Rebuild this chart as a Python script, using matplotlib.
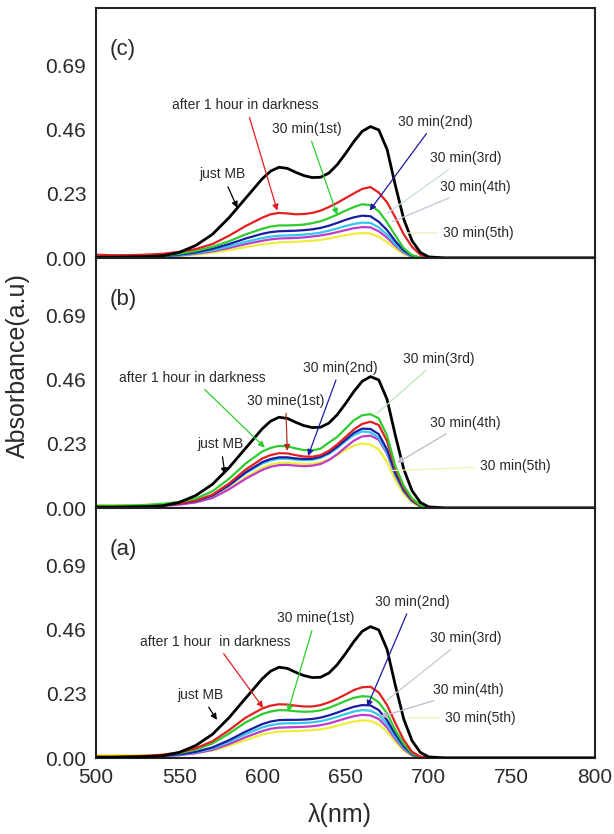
import matplotlib
matplotlib.use("Agg")
import matplotlib.pyplot as plt

plt.rcParams['font.family'] = ['Liberation Sans', 'DejaVu Sans']

# ---------------- data ----------------
wavelength = [500, 510, 520, 530, 540, 550, 560, 570, 580, 590, 600, 605, 610, 615, 620, 625,
              630, 635, 640, 645, 650, 655, 660, 665, 670, 675, 680, 685, 690, 695, 700, 710, 800]

x_ticks = [500, 550, 600, 650, 700, 750, 800]
y_ticks = [0.00, 0.23, 0.46, 0.69]
y_tick_labels = ["0.00", "0.23", "0.46", "0.69"]
panel_labels = ["(c)", "(b)", "(a)"]

just_mb = [0.003, 0.003, 0.004, 0.005, 0.008, 0.02, 0.045, 0.085, 0.145, 0.215, 0.285, 0.312, 0.326, 0.322,
           0.308, 0.296, 0.289, 0.29, 0.305, 0.335, 0.375, 0.418, 0.455, 0.472, 0.46, 0.39, 0.26, 0.14,
           0.062, 0.02, 0.004, 0.0, 0.0]

# panel (c)
c_dark = [0.012, 0.01, 0.01, 0.012, 0.015, 0.022, 0.032, 0.05, 0.08, 0.115, 0.145, 0.157, 0.162, 0.16, 0.157,
          0.158, 0.162, 0.17, 0.183, 0.198, 0.215, 0.232, 0.248, 0.255, 0.235, 0.2, 0.145, 0.085, 0.04,
          0.012, 0.002, 0.0, 0.0]
c_1st = [0.0, 0.0, 0.002, 0.004, 0.008, 0.015, 0.025, 0.04, 0.06, 0.085, 0.105, 0.113, 0.117, 0.117, 0.118,
         0.12, 0.125, 0.132, 0.143, 0.156, 0.17, 0.183, 0.193, 0.19, 0.168, 0.128, 0.08, 0.035, 0.01, 0.002,
         0.0, 0.0, 0.0]
c_2nd = [0.002, 0.002, 0.003, 0.004, 0.007, 0.012, 0.02, 0.033, 0.05, 0.07, 0.087, 0.093, 0.096, 0.097,
         0.098, 0.1, 0.103, 0.108, 0.116, 0.126, 0.137, 0.146, 0.152, 0.15, 0.13, 0.1, 0.06, 0.027, 0.008,
         0.001, 0.0, 0.0, 0.0]
c_3rd = [0.001, 0.001, 0.002, 0.003, 0.006, 0.01, 0.017, 0.028, 0.042, 0.058, 0.072, 0.077, 0.08, 0.081,
         0.082, 0.084, 0.087, 0.091, 0.098, 0.106, 0.115, 0.122, 0.127, 0.126, 0.11, 0.084, 0.05, 0.022,
         0.006, 0.001, 0.0, 0.0, 0.0]
c_4th = [0.004, 0.003, 0.003, 0.004, 0.006, 0.009, 0.015, 0.024, 0.036, 0.05, 0.062, 0.067, 0.07, 0.071,
         0.072, 0.074, 0.077, 0.081, 0.086, 0.093, 0.1, 0.107, 0.111, 0.11, 0.096, 0.073, 0.044, 0.019,
         0.005, 0.001, 0.0, 0.0, 0.0]
c_5th = [0.003, 0.003, 0.003, 0.004, 0.005, 0.008, 0.012, 0.019, 0.028, 0.039, 0.049, 0.053, 0.056, 0.057,
         0.058, 0.06, 0.062, 0.065, 0.07, 0.076, 0.082, 0.087, 0.09, 0.088, 0.076, 0.057, 0.034, 0.014,
         0.004, 0.001, 0.0, 0.0, 0.0]

# panel (b)
b_dark = [0.004, 0.004, 0.005, 0.007, 0.01, 0.016, 0.027, 0.048, 0.088, 0.138, 0.178, 0.19, 0.197, 0.196,
          0.19, 0.185, 0.184, 0.19, 0.205, 0.228, 0.255, 0.282, 0.302, 0.31, 0.298, 0.24, 0.14, 0.073, 0.03,
          0.008, 0.001, 0.0, 0.0]
b_1st = [0.008, 0.008, 0.009, 0.011, 0.015, 0.022, 0.034, 0.06, 0.105, 0.16, 0.203, 0.216, 0.223, 0.222,
         0.214, 0.208, 0.207, 0.213, 0.235, 0.255, 0.285, 0.315, 0.333, 0.337, 0.322, 0.26, 0.15, 0.08,
         0.035, 0.01, 0.002, 0.0, 0.0]
b_2nd = [0.004, 0.004, 0.005, 0.006, 0.009, 0.015, 0.025, 0.045, 0.082, 0.128, 0.165, 0.176, 0.182, 0.182,
         0.178, 0.176, 0.177, 0.184, 0.198, 0.22, 0.245, 0.27, 0.285, 0.284, 0.265, 0.21, 0.125, 0.065,
         0.027, 0.007, 0.001, 0.0, 0.0]
b_3rd = [0.005, 0.005, 0.006, 0.007, 0.01, 0.015, 0.025, 0.044, 0.08, 0.125, 0.16, 0.171, 0.177, 0.177,
         0.174, 0.172, 0.173, 0.18, 0.194, 0.215, 0.24, 0.262, 0.275, 0.272, 0.252, 0.2, 0.12, 0.062, 0.025,
         0.006, 0.001, 0.0, 0.0]
b_4th = [0.006, 0.005, 0.005, 0.006, 0.008, 0.012, 0.02, 0.036, 0.067, 0.105, 0.137, 0.148, 0.154, 0.155,
         0.152, 0.15, 0.152, 0.158, 0.172, 0.193, 0.218, 0.242, 0.257, 0.26, 0.245, 0.195, 0.117, 0.06,
         0.024, 0.006, 0.001, 0.0, 0.0]
b_5th = [0.01, 0.01, 0.01, 0.011, 0.013, 0.017, 0.025, 0.04, 0.07, 0.11, 0.145, 0.156, 0.162, 0.163, 0.16,
         0.158, 0.159, 0.164, 0.175, 0.19, 0.208, 0.224, 0.232, 0.228, 0.21, 0.165, 0.1, 0.05, 0.02, 0.005,
         0.001, 0.0, 0.0]

# panel (a)
a_dark = [0.004, 0.004, 0.005, 0.008, 0.012, 0.02, 0.035, 0.06, 0.1, 0.145, 0.178, 0.188, 0.193, 0.192,
          0.188, 0.185, 0.185, 0.19, 0.2, 0.213, 0.228, 0.244, 0.254, 0.256, 0.235, 0.19, 0.125, 0.065,
          0.022, 0.005, 0.001, 0.0, 0.0]
a_1st = [0.003, 0.003, 0.004, 0.006, 0.01, 0.017, 0.03, 0.052, 0.088, 0.128, 0.158, 0.167, 0.172, 0.171,
         0.168, 0.166, 0.167, 0.171, 0.18, 0.192, 0.205, 0.216, 0.222, 0.22, 0.2, 0.16, 0.1, 0.05, 0.017,
         0.004, 0.001, 0.0, 0.0]
a_2nd = [0.002, 0.002, 0.003, 0.005, 0.008, 0.013, 0.022, 0.038, 0.064, 0.095, 0.122, 0.131, 0.136, 0.137,
         0.137, 0.138, 0.14, 0.145, 0.153, 0.163, 0.174, 0.184, 0.19, 0.189, 0.172, 0.136, 0.085, 0.042,
         0.014, 0.003, 0.0, 0.0, 0.0]
a_3rd = [0.002, 0.002, 0.003, 0.004, 0.007, 0.012, 0.02, 0.034, 0.058, 0.086, 0.11, 0.118, 0.123, 0.125,
         0.125, 0.126, 0.128, 0.132, 0.139, 0.148, 0.158, 0.167, 0.172, 0.17, 0.155, 0.122, 0.075, 0.036,
         0.012, 0.002, 0.0, 0.0, 0.0]
a_4th = [0.003, 0.003, 0.003, 0.004, 0.006, 0.01, 0.017, 0.029, 0.05, 0.075, 0.097, 0.105, 0.109, 0.11,
         0.111, 0.112, 0.114, 0.118, 0.124, 0.133, 0.142, 0.15, 0.155, 0.153, 0.14, 0.11, 0.068, 0.032,
         0.01, 0.002, 0.0, 0.0, 0.0]
a_5th = [0.01, 0.01, 0.01, 0.01, 0.011, 0.013, 0.018, 0.027, 0.044, 0.065, 0.084, 0.091, 0.095, 0.096,
         0.097, 0.098, 0.1, 0.103, 0.108, 0.116, 0.124, 0.131, 0.135, 0.133, 0.12, 0.095, 0.058, 0.027,
         0.008, 0.002, 0.0, 0.0, 0.0]

# ---------------- styling ----------------
COL = {
    'mb': '#000000', 'dark': '#e32020', '1st': '#2ecc2e', '2nd': '#1c1ca0',
    '3rd': '#33c8ee', '4th': '#c03cc8', '5th': '#eded3c',
}
TXT = '#2a2a2a'

fig = plt.figure(figsize=(6.14, 8.34), dpi=100)
left, width, h = 96 / 614, 499 / 614, 250 / 834
bottoms = [1 - 258 / 834, 1 - 508 / 834, 1 - 758 / 834]

panels = [
    [c_5th, c_4th, c_3rd, c_2nd, c_1st, c_dark, just_mb],
    [b_5th, b_4th, b_3rd, b_2nd, b_dark, b_1st, just_mb],
    [a_5th, a_4th, a_3rd, a_2nd, a_1st, a_dark, just_mb],
]
keys = ['5th', '4th', '3rd', '2nd', '1st', 'dark', 'mb']
keys_b = ['5th', '4th', '3rd', '2nd', 'dark', '1st', 'mb']

axes = []
for i, (bot, series) in enumerate(zip(bottoms, panels)):
    ax = fig.add_axes([left, bot, width, h])
    kk = keys_b if i == 1 else keys
    for k, s in zip(kk, series):
        ax.plot(wavelength, s, color=COL[k], lw=2.0 if k == 'mb' else 1.6,
                solid_joinstyle='round', zorder=3 if k == 'mb' else 2)
    ax.set_xlim(500, 800)
    ax.set_ylim(0, 0.898)
    ax.set_yticks(y_ticks)
    ax.set_yticklabels(y_tick_labels)
    ax.set_xticks(x_ticks)
    ax.tick_params(length=0, labelsize=15, labelcolor=TXT, pad=7)
    if i < 2:
        ax.tick_params(labelbottom=False)
    for sp in ax.spines.values():
        sp.set_linewidth(1.5)
        sp.set_color('#222222')
    ax.text(508, 0.75, panel_labels[i], fontsize=16, color=TXT, ha='left', va='center')
    axes.append(ax)

def ann(ax, text, xy, xytext, color, head=True, lw=0.9):
    ax.annotate(text, xy=xy, xytext=xytext, fontsize=10, color=TXT,
                ha='center', va='center',
                arrowprops=dict(arrowstyle='-|>' if head else '-', color=color, lw=lw,
                                mutation_scale=9, shrinkA=2, shrinkB=0))

ax_c, ax_b, ax_a = axes
# panel (c)
ann(ax_c, 'after 1 hour in darkness', (609, 0.17), (590, 0.55), COL['dark'])
ann(ax_c, 'just MB', (585, 0.18), (576, 0.30), COL['mb'])
ann(ax_c, '30 min(1st)', (645, 0.155), (627, 0.464), COL['1st'])
ann(ax_c, '30 min(2nd)', (664.5, 0.17), (704, 0.49), COL['2nd'])
ann(ax_c, '30 min(3rd)', (675, 0.16), (722, 0.36), '#c6dde2', head=False)
ann(ax_c, '30 min(4th)', (678, 0.13), (728, 0.255), '#c9c2d6', head=False)
ann(ax_c, '30 min(5th)', (686, 0.09), (730, 0.09), '#f2efb8', head=False)
# panel (b)
ann(ax_b, 'after 1 hour in darkness', (601.5, 0.217), (558, 0.468), COL['1st'])
ann(ax_b, 'just MB', (577.5, 0.121), (575, 0.229), COL['mb'])
ann(ax_b, '30 mine(1st)', (615, 0.205), (614, 0.385), '#b03020')
ann(ax_b, '30 min(2nd)', (627.5, 0.187), (647, 0.504), COL['2nd'])
ann(ax_b, '30 min(3rd)', (669, 0.34), (706, 0.535), '#b8e6b8', head=False)
ann(ax_b, '30 min(4th)', (681, 0.162), (722, 0.307), '#c0b8cc')
ann(ax_b, '30 min(5th)', (678.5, 0.135), (752, 0.151), '#f2efb8', head=False)
# panel (a)
ann(ax_a, 'after 1 hour  in darkness', (600.5, 0.18), (571.5, 0.418), COL['dark'])
ann(ax_a, 'just MB', (572.7, 0.137), (563, 0.226), COL['mb'])
ann(ax_a, '30 mine(1st)', (615.4, 0.166), (632, 0.502), COL['1st'])
ann(ax_a, '30 min(2nd)', (663, 0.184), (690, 0.562), COL['2nd'])
ann(ax_a, '30 min(3rd)', (675, 0.208), (722, 0.431), '#c8c8c8', head=False)
ann(ax_a, '30 min(4th)', (671, 0.148), (724, 0.244), '#c0b8cc')
ann(ax_a, '30 min(5th)', (688, 0.144), (731, 0.144), '#f2efb8', head=False)

fig.text(18 / 614, 1 - 366 / 834, 'Absorbance(a.u)', rotation=90, ha='center', va='center',
         fontsize=18, color=TXT)
fig.text(340 / 614, 1 - 815 / 834, 'λ(nm)', ha='center', va='center', fontsize=18, color=TXT)

fig.savefig('out.png', dpi=100, facecolor='white')
